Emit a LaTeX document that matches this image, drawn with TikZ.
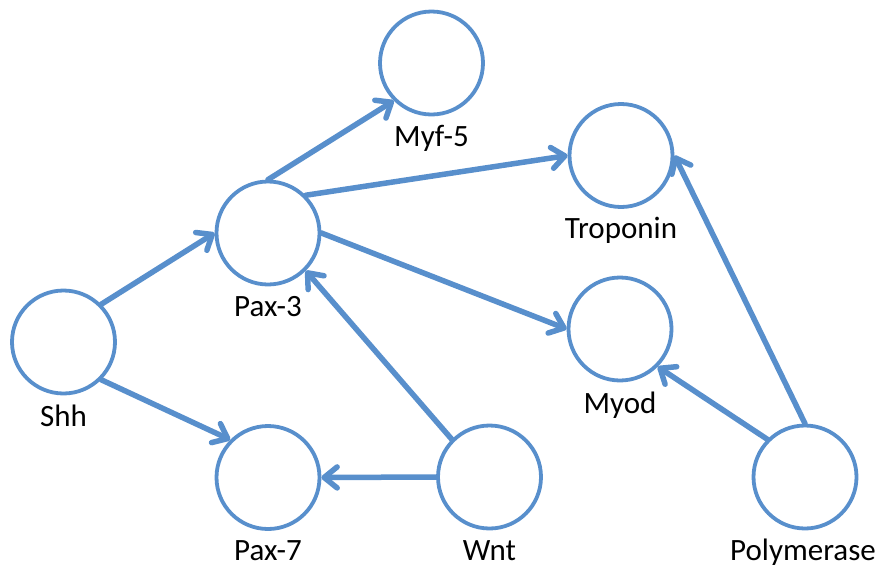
\documentclass[tikz,border=0pt]{standalone}
\usepackage{fontspec}
\setmainfont{Carlito}
\usetikzlibrary{arrows.meta}
\definecolor{gblue}{RGB}{88,143,204}
\tikzset{
  gene/.style={circle, draw=gblue, line width=3.8pt, minimum size=103pt, inner sep=0pt},
  lbl/.style={anchor=base, inner sep=0pt, font=\fontsize{31}{37}\selectfont, text=black},
  conn/.style={draw=gblue, line width=5.5pt, line cap=round, -{Straight Barb[length=13pt, width=21pt, line cap=round, line join=round]}}
}
\begin{document}
\begin{tikzpicture}[x=1pt, y=-1pt]
\useasboundingbox (0,0) rectangle (882,568);
\node[gene] (myf) at (431.5,63) {};
\node[gene] (trop) at (621,155.5) {};
\node[gene] (pax3) at (268,233) {};
\node[gene] (myod) at (620,329) {};
\node[gene] (shh) at (63.5,342) {};
\node[gene] (pax7) at (268,477.5) {};
\node[gene] (wnt) at (489.5,477) {};
\node[gene] (poly) at (805,477) {};

\node[lbl] (myfL) at ([yshift=-30pt]myf.south) {Myf-5};
\node[lbl] (tropL) at ([yshift=-30pt]trop.south) {Troponin};
\node[lbl] (pax3L) at ([yshift=-30pt]pax3.south) {Pax-3};
\node[lbl] (myodL) at ([yshift=-31pt]myod.south) {Myod};
\node[lbl] (shhL) at ([yshift=-31pt]shh.south) {Shh};
\node[lbl] (pax7L) at ([yshift=-30pt]pax7.south) {Pax-7};
\node[lbl] (wntL) at ([yshift=-30pt]wnt.south) {Wnt};
\node[lbl] (polyL) at ([xshift=-2pt,yshift=-30pt]poly.south) {Polymerase};

\draw[conn] (shh.north east) -- (pax3.west);
\draw[conn] (shh.south east) -- (pax7.north west);
\draw[conn] (pax3.north) -- (myf.south west);
\draw[conn] (pax3.north east) -- (trop.west);
\draw[conn] (pax3.east) -- (myod.west);
\draw[conn] (wnt.north west) -- (pax3.south east);
\draw[conn] (wnt.west) -- (pax7.east);
\draw[conn] (poly.north west) -- (myod.south east);
\draw[conn] (poly.north) -- (trop.east);
\end{tikzpicture}
\end{document}
